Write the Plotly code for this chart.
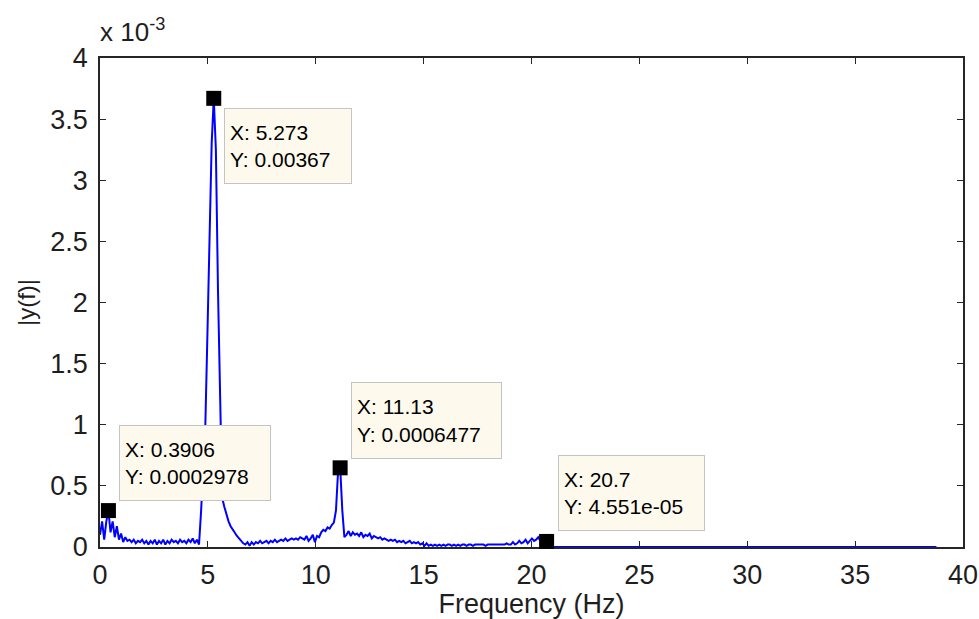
import plotly.graph_objects as go

# ---------------- data ----------------
FS = 100.0          # sampling rate (Hz)
NFFT = 1024         # FFT length -> bin spacing FS/NFFT
bin_index = list(range(216)) + [397]

# |y(f)| in units of 1e-3, one value per bin
mag_e3 = [
    0.10, 0.21, 0.06, 0.21, 0.2978, 0.12, 0.21, 0.08, 0.17, 0.06,   # 0-9
    0.11, 0.04, 0.08, 0.05, 0.06, 0.04, 0.06, 0.03, 0.05, 0.04,     # 10-19
    0.06, 0.03, 0.05, 0.02, 0.05, 0.03, 0.06, 0.02, 0.05, 0.03,     # 20-29
    0.06, 0.02, 0.05, 0.03, 0.06, 0.04, 0.05, 0.03, 0.06, 0.04,     # 30-39
    0.05, 0.03, 0.06, 0.04, 0.07, 0.03, 0.06, 0.02, 0.30, 0.60,     # 40-49
    1.00, 1.75, 2.55, 3.30, 3.67, 3.25, 2.10, 1.31, 0.40, 0.33,     # 50-59
    0.26, 0.21, 0.17, 0.14, 0.11, 0.09, 0.07, 0.05, 0.03, 0.02,     # 60-69
    0.04, 0.01, 0.04, 0.02, 0.04, 0.03, 0.05, 0.03, 0.04, 0.05,     # 70-79
    0.03, 0.05, 0.04, 0.06, 0.04, 0.05, 0.06, 0.05, 0.07, 0.05,     # 80-89
    0.06, 0.07, 0.06, 0.07, 0.06, 0.08, 0.07, 0.06, 0.09, 0.05,     # 90-99
    0.07, 0.10, 0.04, 0.09, 0.08, 0.12, 0.14, 0.13, 0.16, 0.15,     # 100-109
    0.18, 0.20, 0.30, 0.62, 0.6477, 0.30, 0.08, 0.10, 0.13, 0.09,   # 110-119
    0.12, 0.10, 0.11, 0.09, 0.12, 0.08, 0.10, 0.09, 0.11, 0.07,     # 120-129
    0.09, 0.08, 0.07, 0.08, 0.06, 0.07, 0.06, 0.05, 0.06, 0.05,     # 130-139
    0.06, 0.04, 0.05, 0.04, 0.05, 0.03, 0.04, 0.05, 0.03, 0.04,     # 140-149
    0.03, 0.04, 0.02, 0.03, 0.01, 0.03, 0.01, 0.02, 0.01, 0.02,     # 150-159
    0.01, 0.02, 0.01, 0.02, 0.01, 0.02, 0.02, 0.01, 0.02, 0.01,     # 160-169
    0.02, 0.01, 0.02, 0.02, 0.01, 0.02, 0.02, 0.01, 0.02, 0.02,     # 170-179
    0.02, 0.02, 0.02, 0.01, 0.02, 0.02, 0.02, 0.02, 0.02, 0.02,     # 180-189
    0.02, 0.02, 0.02, 0.03, 0.02, 0.02, 0.04, 0.02, 0.03, 0.05,     # 190-199
    0.03, 0.04, 0.06, 0.03, 0.05, 0.07, 0.05, 0.06, 0.08, 0.05,     # 200-209
    0.07, 0.03, 0.04551, 0.02, 0.005, 0.0,                          # 210-215
    0.0,                                                            # 397
]

# data tips (X in Hz, Y in units of 1e-3)
tip_x = [0.3906, 5.273, 11.13, 20.7]
tip_y_e3 = [0.2978, 3.67, 0.6477, 0.04551]

x_ticks = [0, 5, 10, 15, 20, 25, 30, 35, 40]
y_ticks = [0, 0.5, 1, 1.5, 2, 2.5, 3, 3.5, 4]
y_tick_text = ["0", "0.5", "1", "1.5", "2", "2.5", "3", "3.5", "4"]

freq = [k * FS / NFFT for k in bin_index]

FONT = "Arial, Liberation Sans, sans-serif"
TXT = "#1e1e1e"

fig = go.Figure()
fig.add_trace(go.Scatter(x=freq, y=mag_e3, mode="lines",
                         line=dict(color="#0000FF", width=2),
                         hoverinfo="skip", showlegend=False))
fig.add_trace(go.Scatter(x=tip_x, y=tip_y_e3, mode="markers",
                         marker=dict(symbol="square", size=15, color="black",
                                     line=dict(width=0)),
                         cliponaxis=False, hoverinfo="skip", showlegend=False))

# data-tip boxes: (position of box relative to marker)
box_style = [
    dict(ya="bottom", xs=11, ys=10, w=140, h=64),
    dict(ya="top", xs=10, ys=-10, w=116, h=64),
    dict(ya="bottom", xs=11, ys=9, w=139, h=65),
    dict(ya="bottom", xs=11, ys=10, w=135, h=64),
]
for x, y, st in zip(tip_x, tip_y_e3, box_style):
    fig.add_annotation(
        x=x, y=y, xref="x", yref="y",
        text=f"X: {x:.4g}<br>Y: {y * 1e-3:.4g}",
        showarrow=False, xanchor="left", yanchor=st["ya"],
        xshift=st["xs"], yshift=st["ys"],
        align="left", valign="middle",
        width=st["w"], height=st["h"],
        bgcolor="#FDF9EC", bordercolor="#C4C4C4", borderwidth=1, borderpad=5,
        font=dict(family=FONT, size=21, color="black"),
    )

# exponent label
fig.add_annotation(
    x=0, y=1.0, xref="paper", yref="paper", xanchor="left", yanchor="bottom",
    xshift=-2, yshift=9,
    text="x 10<sup>-3</sup>", showarrow=False,
    font=dict(family=FONT, size=26, color=TXT),
)

axis_common = dict(
    showline=True, linecolor="#262626", linewidth=1.5, mirror="allticks",
    ticks="inside", ticklen=6, tickwidth=1, tickcolor="#262626",
    showgrid=False, zeroline=False, automargin=False, layer="below traces",
    tickfont=dict(family=FONT, size=27, color=TXT),
)

fig.update_layout(
    width=979, height=619,
    margin=dict(l=100, r=16, t=58, b=72),
    paper_bgcolor="white", plot_bgcolor="white",
    xaxis=dict(range=[0, 40], tickvals=x_ticks, ticklabelstandoff=3,
               title=dict(text="Frequency (Hz)", standoff=4,
                          font=dict(family=FONT, size=27, color=TXT)),
               **axis_common),
    yaxis=dict(range=[0, 4], tickvals=y_ticks, ticktext=y_tick_text,
               ticklabelstandoff=5,
               title=dict(text="|y(f)|", standoff=8,
                          font=dict(family=FONT, size=24, color=TXT)),
               **axis_common),
)

fig.write_html("out.html")
